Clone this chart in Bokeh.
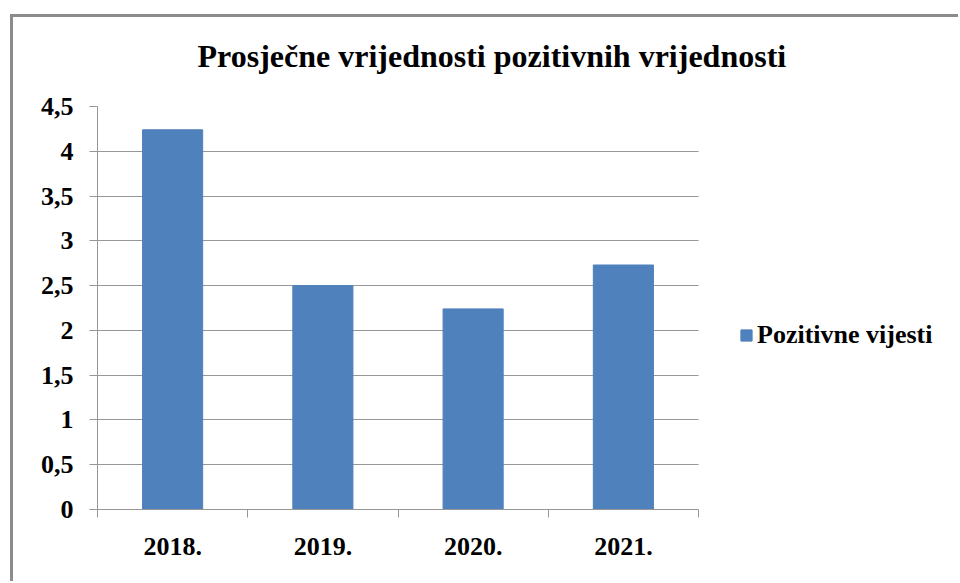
from bokeh.plotting import figure
from bokeh.models import FixedTicker, Legend, LegendItem, ColumnDataSource
from bokeh.embed import file_html
from bokeh.resources import INLINE

# ---- data ----
years = ["2018.", "2019.", "2020.", "2021."]
values = [4.24, 2.50, 2.24, 2.73]
y_ticks = [0, 0.5, 1, 1.5, 2, 2.5, 3, 3.5, 4, 4.5]
y_tick_labels = ["0", "0,5", "1", "1,5", "2", "2,5", "3", "3,5", "4", "4,5"]
series_name = "Pozitivne vijesti"
title_text = "Prosječne vrijednosti pozitivnih vrijednosti"

FONT = "Liberation Serif"
BAR = "#4F81BD"
GRID = "#979797"
EDGE = "#8C8C8C"

# layout (pixels): plot area 97..698 horizontally, frame extended right to hold legend
W, H = 958, 581
LEFT, TOP, BOTTOM_Y = 97, 106, 509
PLOT_RIGHT = 698
FRAME_RIGHT = 950
n = len(years)
x_end = n * (FRAME_RIGHT - LEFT) / (PLOT_RIGHT - LEFT)

x_pos = [i + 0.5 for i in range(n)]
source = ColumnDataSource(dict(x=x_pos, top=values, year=years))

border_css = (
    f"linear-gradient({EDGE},{EDGE}) 10px 14px / 3px 100% no-repeat, "
    f"linear-gradient({EDGE},{EDGE}) 10px 14px / 100% 3px no-repeat, white"
)

p = figure(width=W, height=H, output_backend="svg", toolbar_location=None,
           x_range=(0, x_end), y_range=(0, 4.5),
           min_border_left=LEFT, min_border_right=W - FRAME_RIGHT,
           min_border_top=TOP, min_border_bottom=H - BOTTOM_Y,
           title=title_text, styles={"background": border_css})
p.outline_line_color = None
p.background_fill_color = "white"
p.border_fill_alpha = 0

r = p.vbar(x="x", top="top", width=0.4, source=source, fill_color=BAR, line_color=BAR)

# title
p.title.text_font = FONT
p.title.text_font_size = "32px"
p.title.text_font_style = "bold"
p.title.text_color = "black"
p.title.align = "left"
p.title.offset = 100
p.title.standoff = 65

# x axis
xa = p.xaxis[0]
xa.bounds = (0, n)
xa.ticker = FixedTicker(ticks=x_pos, minor_ticks=list(range(n + 1)))
xa.major_label_overrides = {x: y for x, y in zip(x_pos, years)}
xa.major_tick_out = 0
xa.major_tick_in = 0
xa.minor_tick_out = 8
xa.minor_tick_in = 0
xa.minor_tick_line_color = GRID
xa.axis_line_color = GRID
xa.major_label_standoff = 20
xa.major_label_text_font = FONT
xa.major_label_text_font_size = "26px"
xa.major_label_text_font_style = "bold"
xa.major_label_text_color = "black"

# y axis
ya = p.yaxis[0]
ya.ticker = FixedTicker(ticks=y_ticks)
ya.major_label_overrides = {t: l for t, l in zip(y_ticks, y_tick_labels)}
ya.major_tick_out = 8
ya.major_tick_in = 0
ya.minor_tick_line_color = None
ya.major_tick_line_color = GRID
ya.axis_line_color = GRID
ya.major_label_standoff = 16
ya.major_label_text_font = FONT
ya.major_label_text_font_size = "26px"
ya.major_label_text_font_style = "bold"
ya.major_label_text_color = "black"

p.xgrid.grid_line_color = None
yg = p.ygrid[0]
yg.grid_line_color = GRID
yg.ticker = FixedTicker(ticks=y_ticks)
yg.cross_bounds = (0, n)

# legend (inside the extended frame, to the right of the plot area)
legend = Legend(items=[LegendItem(label=series_name, renderers=[r])], location=(642, 159))
legend.border_line_color = None
legend.background_fill_alpha = 0
legend.padding = 0
legend.margin = 0
legend.glyph_width = 14
legend.glyph_height = 14
legend.label_standoff = 4
legend.label_text_font = FONT
legend.label_text_font_size = "26px"
legend.label_text_font_style = "bold"
legend.label_text_color = "black"
p.add_layout(legend)

open("out.html", "w").write(file_html(p, INLINE))
